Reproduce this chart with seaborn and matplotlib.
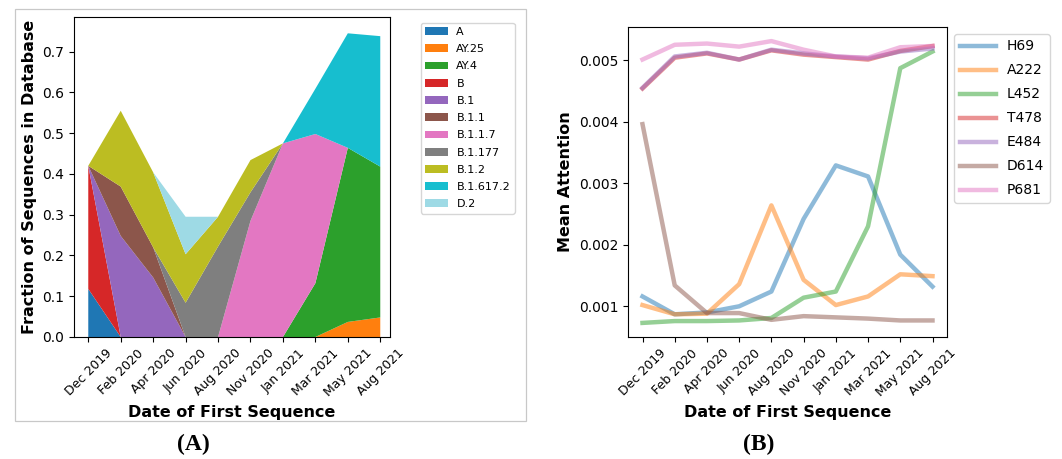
import matplotlib
matplotlib.use("Agg")
import matplotlib.pyplot as plt
import numpy as np
import pandas as pd
import seaborn as sns
from matplotlib.patches import Rectangle

# Sampling dates (x axis of both panels)
dates = ["Dec 2019", "Feb 2020", "Apr 2020", "Jun 2020", "Aug 2020",
         "Nov 2020", "Jan 2021", "Mar 2021", "May 2021", "Aug 2021"]

# Panel A: fraction of sequences per lineage (stacked)
lineages = ["A", "AY.25", "AY.4", "B", "B.1", "B.1.1", "B.1.1.7",
            "B.1.177", "B.1.2", "B.1.617.2", "D.2"]
frac_A = [0.118, 0, 0, 0, 0, 0, 0, 0, 0, 0]
frac_AY25 = [0, 0, 0, 0, 0, 0, 0, 0, 0.037, 0.048]
frac_AY4 = [0, 0, 0, 0, 0, 0, 0, 0.132, 0.427, 0.370]
frac_B = [0.302, 0, 0, 0, 0, 0, 0, 0, 0, 0]
frac_B1 = [0, 0.248, 0.146, 0, 0, 0, 0, 0, 0, 0]
frac_B11 = [0, 0.121, 0.074, 0, 0, 0, 0, 0, 0, 0]
frac_B117 = [0, 0, 0, 0, 0, 0.285, 0.475, 0.366, 0, 0]
frac_B1177 = [0, 0, 0, 0.084, 0.222, 0.070, 0, 0, 0, 0]
frac_B12 = [0, 0.186, 0.184, 0.119, 0.073, 0.079, 0, 0, 0, 0]
frac_B16172 = [0, 0, 0, 0, 0, 0, 0, 0.111, 0.281, 0.320]
frac_D2 = [0, 0, 0, 0.092, 0, 0, 0, 0, 0, 0]

# Panel B: mean attention per spike site
sites = ["H69", "A222", "L452", "T478", "E484", "D614", "P681"]
att_H69 = [0.00116, 0.00087, 0.00090, 0.00100, 0.00124, 0.00242, 0.00329, 0.00311, 0.00184, 0.00132]
att_A222 = [0.00102, 0.00087, 0.00088, 0.00136, 0.00264, 0.00143, 0.00102, 0.00116, 0.00152, 0.00149]
att_L452 = [0.00073, 0.00076, 0.00076, 0.00077, 0.00081, 0.00114, 0.00124, 0.00230, 0.00487, 0.00514]
att_T478 = [0.00454, 0.00504, 0.00511, 0.00501, 0.00516, 0.00509, 0.00505, 0.00501, 0.00515, 0.00523]
att_E484 = [0.00455, 0.00506, 0.00512, 0.00501, 0.00517, 0.00511, 0.00506, 0.00503, 0.00514, 0.00519]
att_D614 = [0.00396, 0.00134, 0.00089, 0.00089, 0.00078, 0.00084, 0.00082, 0.00080, 0.00077, 0.00077]
att_P681 = [0.00501, 0.00525, 0.00527, 0.00522, 0.00531, 0.00517, 0.00506, 0.00504, 0.00521, 0.00523]

fractions = [frac_A, frac_AY25, frac_AY4, frac_B, frac_B1, frac_B11, frac_B117,
             frac_B1177, frac_B12, frac_B16172, frac_D2]
attention = [att_H69, att_A222, att_L452, att_T478, att_E484, att_D614, att_P681]

x = np.arange(len(dates))
palette = sns.color_palette("tab10") + ["#9edae5"]

fig = plt.figure(figsize=(10.62, 4.59), dpi=100)

# Light frame around panel A
fig.patches.append(Rectangle((15 / 1062, 1 - 421 / 459), (526 - 15) / 1062, (421 - 9) / 459,
                             transform=fig.transFigure, fill=False,
                             edgecolor="#c8c8c8", linewidth=0.9))

# ---- Panel A: stacked area ----
axA = fig.add_axes([74 / 1062, 1 - 337 / 459, 316 / 1062, 320 / 459])
axA.stackplot(x, *fractions, labels=lineages, colors=palette)
axA.set_xlim(-0.44, 9.3)
axA.set_ylim(0, 0.785)
axA.set_xticks(x)
axA.set_xticklabels(dates, rotation=45, fontsize=9)
axA.tick_params(axis="y", labelsize=10)
axA.set_xlabel("Date of First Sequence", fontsize=11.5, fontweight="bold")
axA.set_ylabel("Fraction of Sequences in Database", fontsize=11.5, fontweight="bold")
axA.legend(loc="upper left", bbox_to_anchor=(1.08, 1), fontsize=8, labelspacing=0.65)

# ---- Panel B: attention lines ----
axB = fig.add_axes([628 / 1062, 1 - 337 / 459, 319 / 1062, 310 / 459])
for name, vals, col in zip(sites, attention, palette[:7]):
    sns.lineplot(x=x, y=vals, ax=axB, color=col, linewidth=3.2, alpha=0.5, label=name)
axB.set_xticks(x)
axB.set_xticklabels(dates, rotation=45, fontsize=9)
axB.tick_params(axis="y", labelsize=10)
axB.set_xlabel("Date of First Sequence", fontsize=11.5, fontweight="bold")
axB.set_ylabel("Mean Attention", fontsize=11.5, fontweight="bold")
axB.legend(loc="upper left", bbox_to_anchor=(1.0, 1), fontsize=10,
           handlelength=2.6, labelspacing=0.72)

# Panel letters
fig.text(193 / 1062, 1 - 444 / 459, "(A)", ha="center", va="center",
         fontsize=17, fontweight="bold", family="Liberation Serif")
fig.text(759 / 1062, 1 - 444 / 459, "(B)", ha="center", va="center",
         fontsize=17, fontweight="bold", family="Liberation Serif")

fig.savefig("out.png", dpi=100)
